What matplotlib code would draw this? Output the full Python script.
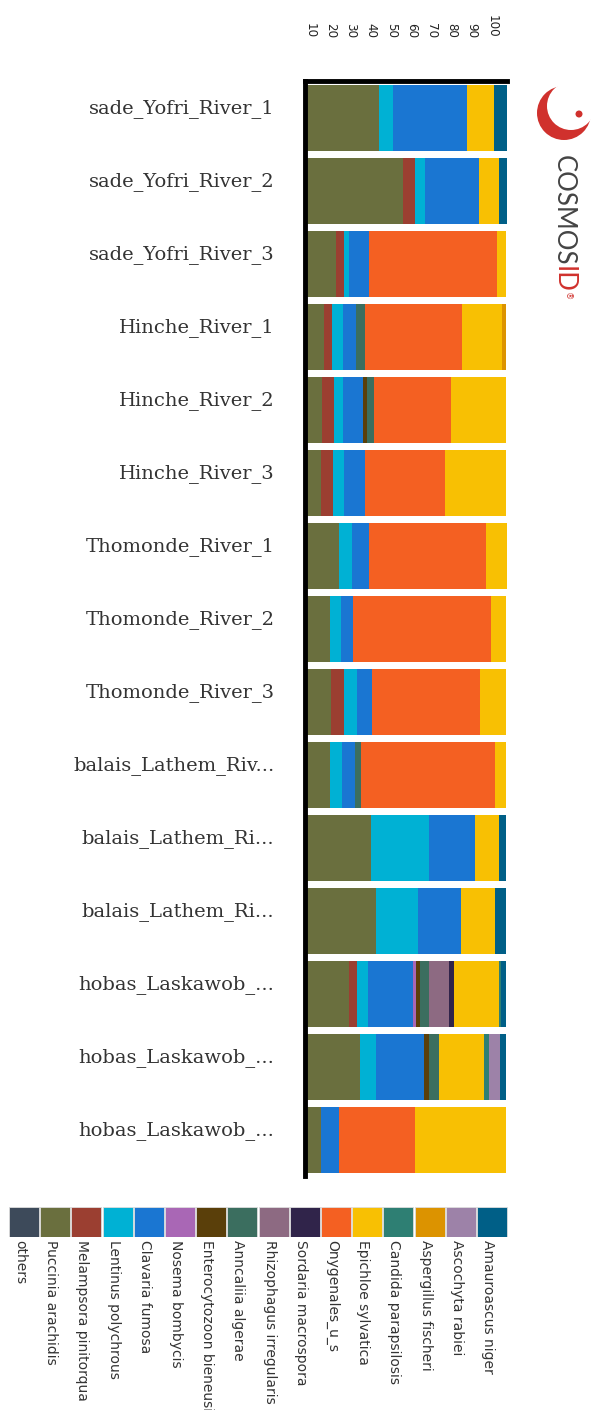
import numpy as np
import matplotlib
matplotlib.use('Agg')
import matplotlib.pyplot as plt
from matplotlib.transforms import ScaledTranslation
from matplotlib.patches import Circle

W, H = 600, 1410

# sample names (as they appear, clipped/truncated)
samples = ['sade_Yofri_River_1', 'sade_Yofri_River_2', 'sade_Yofri_River_3',
           'Hinche_River_1', 'Hinche_River_2', 'Hinche_River_3',
           'Thomonde_River_1', 'Thomonde_River_2', 'Thomonde_River_3',
           'balais_Lathem_Riv...', 'balais_Lathem_Ri...', 'balais_Lathem_Ri...',
           'hobas_Laskawob_...', 'hobas_Laskawob_...', 'hobas_Laskawob_...']

species = ['others', 'Puccinia arachidis', 'Melampsora pinitorqua',
           'Lentinus polychrous', 'Clavaria fumosa', 'Nosema bombycis',
           'Enterocytozoon bieneusi', 'Anncaliia algerae',
           'Rhizophagus irregularis', 'Sordaria macrospora', 'Onygenales_u_s',
           'Epichloe sylvatica', 'Candida parapsilosis', 'Aspergillus fischeri',
           'Ascochyta rabiei', 'Amauroascus niger']

colors = ['#3d4a5a', '#6a6f3e', '#9b3f31', '#00b1d4', '#1a76d2', '#a967b5',
          '#5a3f0a', '#3b6e5f', '#8d6a82', '#30244a', '#f46022', '#f8c003',
          '#2e7f73', '#dc9300', '#9d82a8', '#005f87']

# relative abundance (%) per species, one value per sample
others      = [0, 0, 0, 0, 0, 0, 0, 0, 0, 0, 0, 0, 0, 0, 0]
puccinia    = [36.5, 48.5, 15.3, 9.2, 8.3, 7.7, 17.0, 12.3, 13.0, 12.3, 32.7, 35.0, 21.7, 27.2, 7.7]
melampsora  = [0, 6.0, 4.0, 4.0, 6.3, 6.3, 0, 0, 6.3, 0, 0, 0, 4.0, 0, 0]
lentinus    = [7.0, 4.8, 2.3, 5.5, 4.0, 5.5, 6.2, 5.5, 6.3, 6.2, 28.7, 21.0, 5.3, 7.8, 0]
clavaria    = [36.5, 26.7, 10.2, 6.3, 10.0, 10.0, 8.7, 6.2, 7.8, 6.3, 22.7, 21.0, 22.7, 24.0, 9.3]
nosema      = [0, 0, 0, 0, 0, 0, 0, 0, 0, 0, 0, 0, 1.3, 0, 0]
entero      = [0, 0, 0, 0, 2.3, 0, 0, 0, 0, 0, 0, 0, 1.8, 2.3, 0]
anncaliia   = [0, 0, 0, 4.7, 3.3, 0, 0, 0, 0, 3.0, 0, 0, 4.7, 4.8, 0]
rhizophagus = [0, 0, 0, 0, 0, 0, 0, 0, 0, 0, 0, 0, 10.0, 0, 0]
sordaria    = [0, 0, 0, 0, 0, 0, 0, 0, 0, 0, 0, 0, 2.5, 0, 0]
onygenales  = [0, 0, 63.3, 48.2, 38.2, 39.8, 57.7, 68.0, 53.0, 66.3, 0, 0, 0, 0, 37.5]
epichloe    = [13.5, 10.0, 4.5, 19.5, 27.2, 30.3, 10.2, 7.7, 13.2, 5.5, 11.8, 17.2, 21.8, 22.7, 45.2]
candida     = [0, 0, 0, 0, 0, 0, 0, 0, 0, 0, 0, 0, 1.3, 2.3, 0]
aspergillus = [0, 0, 0, 2.3, 0, 0, 0, 0, 0, 0, 0, 0, 0, 0, 0]
ascochyta   = [0, 0, 0, 0, 0, 0, 0, 0, 0, 0, 0, 0, 0, 5.3, 0]
amauroascus = [6.5, 4.0, 0, 0, 0, 0, 0, 0, 0, 0, 3.8, 5.5, 2.5, 3.2, 0]

abund = [others, puccinia, melampsora, lentinus, clavaria, nosema, entero,
         anncaliia, rhizophagus, sordaria, onygenales, epichloe, candida,
         aspergillus, ascochyta, amauroascus]

ticks = [10, 20, 30, 40, 50, 60, 70, 80, 90, 100]


def box(x0, y0, x1, y1):
    # pixel box (top-left origin) -> figure fraction rect
    return [x0 / W, 1 - y1 / H, (x1 - x0) / W, (y1 - y0) / H]


fig = plt.figure(figsize=(W / 100, H / 100), dpi=100)

# main stacked bars
ax = fig.add_axes(box(305, 81, 507, 1176))
ypos = np.arange(len(samples))
left = np.zeros(len(samples))
for col, vals in zip(colors, abund):
    vals = np.array(vals, dtype=float)
    ax.barh(ypos, vals, left=left, height=0.9, color=col, linewidth=0)
    left += vals

ax.set_xlim(0, 100)
ax.set_ylim(14.49, -0.51)
ax.set_xticks([])
ax.set_yticks(ypos)
ax.set_yticklabels(samples, family='DejaVu Serif', fontsize=14, color='#333333')
ax.tick_params(axis='y', length=0, pad=22)
shift = ScaledTranslation(0, 0.12, fig.dpi_scale_trans)
for lbl in ax.get_yticklabels():
    lbl.set_transform(lbl.get_transform() + shift)

ax.spines['right'].set_visible(False)
ax.spines['bottom'].set_visible(False)
ax.spines['left'].set_linewidth(3.5)
ax.spines['top'].set_linewidth(3.5)

# percentage scale on top (rotated)
top = ax.twiny()
top.set_xlim(7.3, 107.3)
top.set_xticks(ticks)
top.set_xticklabels([str(t) for t in ticks], rotation=-90, fontsize=8.6,
                    color='#222222')
top.tick_params(axis='x', length=0, pad=31)
for sp in top.spines.values():
    sp.set_visible(False)

# legend strip at the bottom
lg = fig.add_axes(box(9, 1207, 509, 1237))
lg.bar(np.arange(len(species)), np.ones(len(species)), width=0.96, align='edge',
       color=colors, edgecolor='#dddddd', linewidth=0.6)
lg.set_xlim(0, 500 / 31.2)
lg.set_ylim(0, 1)
lg.axis('off')
for i, name in enumerate(species):
    lg.text(i + 0.35, -0.1, name, rotation=-90, ha='center', va='top',
            fontsize=10, color='#333333', clip_on=False)

# CosmosID logo
lo = fig.add_axes([0, 0, 1, 1], zorder=-1)
lo.set_xlim(0, W)
lo.set_ylim(H, 0)
lo.axis('off')
lo.add_patch(Circle((564, 113), 27, color='#d0312d', lw=0))
lo.add_patch(Circle((571, 106), 24, color='white', lw=0))
lo.add_patch(Circle((579, 114), 3.5, color='#d0312d', lw=0))

t1 = fig.text(563 / W, 1 - 155 / H, 'COSMOS', rotation=-90, ha='center',
              va='top', fontsize=18.5, family='Lato', color='#444444')
fig.canvas.draw()
bb = t1.get_window_extent()
t2 = fig.text(563 / W, bb.y0 / H, 'ID', rotation=-90, ha='center', va='top',
              fontsize=18.5, family='Lato', color='#d0312d')
fig.canvas.draw()
bb2 = t2.get_window_extent()
fig.text(567 / W, bb2.y0 / H, '®', rotation=-90, ha='center', va='top',
         fontsize=6, color='#d0312d')

fig.savefig('out.png', dpi=100)
